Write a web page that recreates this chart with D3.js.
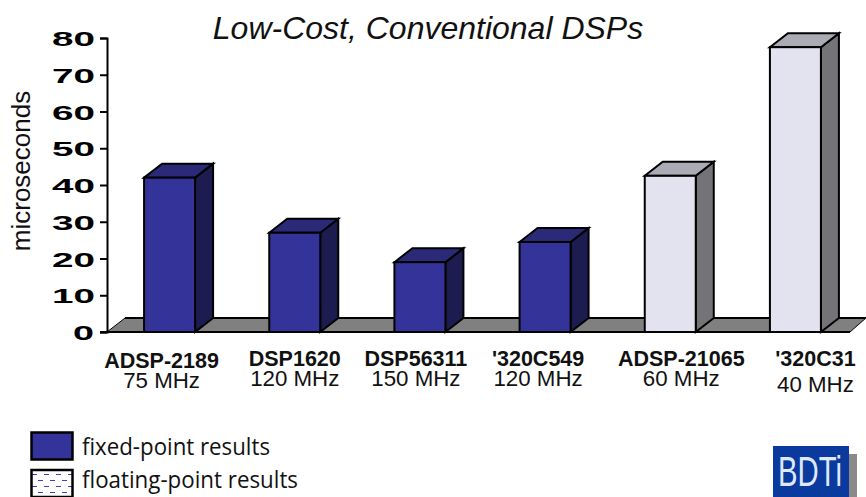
<!DOCTYPE html>
<html><head><meta charset="utf-8">
<script src="https://cdn.jsdelivr.net/npm/d3@7"></script>
<style>
html,body{margin:0;padding:0;background:#fff;overflow:hidden}
svg{display:block}
text{fill:#111}
</style></head><body>
<svg id="c" width="866" height="497" style="font-family:'Liberation Sans',Arial,sans-serif"></svg>
<script>
const categories = ["ADSP-2189","DSP1620","DSP56311","'320C549","ADSP-21065","'320C31"];
const speeds = ["75 MHz","120 MHz","150 MHz","120 MHz","60 MHz","40 MHz"];
const values = [42,27,19,24.5,42.5,77.5];
const kinds = ["fixed","fixed","fixed","fixed","float","float"];
const yTicks = [0,10,20,30,40,50,60,70,80];
const legendLabels = ["fixed-point results","floating-point results"];
const titleText = "Low-Cost, Conventional DSPs";
const yTitle = "microseconds";

const svg = d3.select("#c");
const x = d3.scaleBand().domain(categories).range([107,858]);
const y = d3.scaleLinear().domain([0,80]).range([332,38]);
const dx = 18, dy = -14, barW = 51;
const colors = {
  fixed:{front:"#333399",top:"#2a2a78",side:"#1c1c50"},
  float:{front:"#e3e3f0",top:"#ababb5",side:"#747478"}
};

const defs = svg.append("defs");
const pat = defs.append("pattern").attr("id","dash").attr("patternUnits","userSpaceOnUse")
  .attr("width",12).attr("height",12).attr("x",31).attr("y",471);
pat.append("rect").attr("width",12).attr("height",12).attr("fill","#fff");
pat.append("line").attr("x1",1).attr("x2",6).attr("y1",3.5).attr("y2",3.5).attr("stroke","#4040c4").attr("stroke-width",1);
pat.append("line").attr("x1",7).attr("x2",12).attr("y1",9.5).attr("y2",9.5).attr("stroke","#4040c4").attr("stroke-width",1);

const path = pts => "M"+pts.map(p=>p.join(",")).join("L")+"Z";
const x0 = x.range()[0], x1 = x.range()[1], y0 = y(0);

// floor
svg.append("path")
  .attr("d",path([[x0,y0],[x0+dx,y0+dy],[x1+8,y0+dy],[x1-8,y0]]))
  .attr("fill","#808080");
svg.append("line").attr("x1",x0+dx).attr("x2",x1+8).attr("y1",y0+dy).attr("y2",y0+dy)
  .attr("stroke","#000").attr("stroke-width",2);
svg.append("line").attr("x1",x0).attr("x2",x0+dx).attr("y1",y0).attr("y2",y0+dy)
  .attr("stroke","#000").attr("stroke-width",1);
svg.append("line").attr("x1",x1-8).attr("x2",x1+8).attr("y1",y0).attr("y2",y0+dy)
  .attr("stroke","#000").attr("stroke-width",1);

// bars
const bars = svg.append("g").selectAll("g").data(categories).join("g");
bars.each(function(c,i){
  const g = d3.select(this);
  const l = x(c)+x.bandwidth()/2-barW/2, r = l+barW, t = y(values[i]);
  const col = colors[kinds[i]];
  const st = s => s.attr("stroke","#000").attr("stroke-width",2).attr("stroke-linejoin","miter");
  st(g.append("path").attr("d",path([[r,y0],[r+dx,y0+dy],[r+dx,t+dy],[r,t]])).attr("fill",col.side));
  st(g.append("path").attr("d",path([[l,t],[l+dx,t+dy],[r+dx,t+dy],[r,t]])).attr("fill",col.top));
  st(g.append("rect").attr("x",l).attr("y",t).attr("width",barW).attr("height",y0-t).attr("fill",col.front));
});

// y axis
const axis = svg.append("g").attr("transform",`translate(${x0},0)`)
  .call(d3.axisLeft(y).tickValues(yTicks).tickSize(7).tickPadding(4));
axis.select(".domain").attr("stroke","#000").attr("stroke-width",2);
axis.selectAll(".tick line").attr("stroke","#000").attr("stroke-width",2);
axis.selectAll(".tick text")
  .attr("font-size",21).attr("font-weight","bold")
  .attr("font-family","'Liberation Sans',Arial,sans-serif")
  .attr("text-anchor","start")
  .attr("textLength",d=>d===0?21:43).attr("lengthAdjust","spacingAndGlyphs")
  .attr("x",d=>d===0?-34:-55).attr("dy","0.36em")
  .style("fill","#000");
// baseline
svg.append("line").attr("x1",x0-7).attr("x2",x1-8).attr("y1",y0).attr("y2",y0)
  .attr("stroke","#000").attr("stroke-width",2);

// titles
svg.append("text").attr("x",428).attr("y",39).attr("text-anchor","middle")
  .attr("font-size",32).attr("font-style","italic").text(titleText);
svg.append("text").attr("transform","translate(30,171) rotate(-90)").attr("text-anchor","middle")
  .attr("font-size",26).text(yTitle);

// category labels
const labelY = [367.5,365.5,365.5,365.5,365.5,365.5];
const speedY = [388,386,386,386,386,391.5];
const labelNudge = [-8,0,-4,-7,11,20];
const g2 = svg.append("g").selectAll("g").data(categories).join("g");
g2.append("text").attr("text-anchor","middle").attr("font-weight","bold").attr("font-size",21.5)
  .attr("x",(c,i)=>x(c)+x.bandwidth()/2+labelNudge[i]).attr("y",(c,i)=>labelY[i]).text(c=>c);
g2.append("text").attr("text-anchor","middle").attr("font-size",22.3)
  .attr("x",(c,i)=>x(c)+x.bandwidth()/2+labelNudge[i]).attr("y",(c,i)=>speedY[i]).text((c,i)=>speeds[i]);

// legend
const lg = svg.append("g");
lg.selectAll("rect").data(legendLabels).join("rect")
  .attr("x",31.5).attr("y",(d,i)=>432.5+i*37.5).attr("width",41).attr("height",27)
  .attr("stroke","#000").attr("stroke-width",2.5)
  .attr("fill",(d,i)=>i===0?"#333399":"url(#dash)");
lg.selectAll("text").data(legendLabels).join("text")
  .attr("x",82).attr("y",(d,i)=>455+i*33)
  .attr("font-family","'Open Sans',sans-serif").attr("font-size",23)
  .attr("textLength",(d,i)=>i===0?188:216).attr("lengthAdjust","spacingAndGlyphs").text(d=>d);

// logo
const logo = svg.append("g");
logo.append("rect").attr("x",781).attr("y",454).attr("width",76).attr("height",43).attr("fill","#8a8a8a");
logo.append("rect").attr("x",773).attr("y",446).attr("width",76).attr("height",51).attr("fill","#0a3a9e");
logo.append("text").attr("x",778).attr("y",486)
  .attr("font-size",42).attr("textLength",64).attr("lengthAdjust","spacingAndGlyphs")
  .style("fill","#dfe9fb").text("BDTi");
</script>
</body></html>
